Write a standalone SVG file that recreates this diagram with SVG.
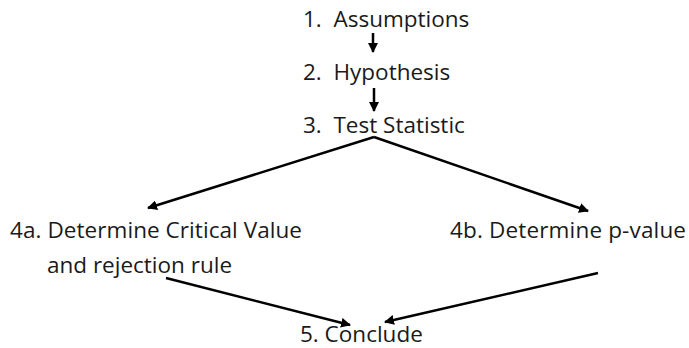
<svg xmlns="http://www.w3.org/2000/svg" width="689" height="348" viewBox="0 0 689 348">
<defs>
<marker id="ah" viewBox="0 0 10 10" refX="9" refY="5" markerWidth="4" markerHeight="4" orient="auto" markerUnits="strokeWidth">
<path d="M0,0 L10,5 L0,10 z" fill="#000"/>
</marker>
<style>
text{font-family:"Open Sans","Noto Sans","DejaVu Sans",sans-serif;font-size:22.5px;fill:#1a1a1a;}
.c{stroke:#000;stroke-width:2.5;fill:none;marker-end:url(#ah);}
</style>
</defs>
<rect width="689" height="348" fill="#fff"/>
<g id="n1"><text x="303" y="27" xml:space="preserve">1.  Assumptions</text></g>
<g id="n2"><text x="303" y="80" xml:space="preserve">2.  Hypothesis</text></g>
<g id="n3"><text x="303" y="133" xml:space="preserve">3.  Test Statistic</text></g>
<g id="n4a"><text x="10" y="238" textLength="292">4a. Determine Critical Value</text><text x="47" y="273">and rejection rule</text></g>
<g id="n4b"><text x="450" y="238" textLength="236">4b. Determine p-value</text></g>
<g id="n5"><text x="300" y="342">5. Conclude</text></g>
<g id="connectors">
<line class="c" x1="373" y1="33" x2="373" y2="52"/>
<line class="c" x1="374" y1="88" x2="374" y2="111"/>
<line class="c" x1="374" y1="137" x2="148" y2="208"/>
<line class="c" x1="374" y1="137" x2="588" y2="211"/>
<line class="c" x1="166" y1="278" x2="350" y2="325"/>
<line class="c" x1="598" y1="273" x2="385" y2="322"/>
</g>
</svg>
